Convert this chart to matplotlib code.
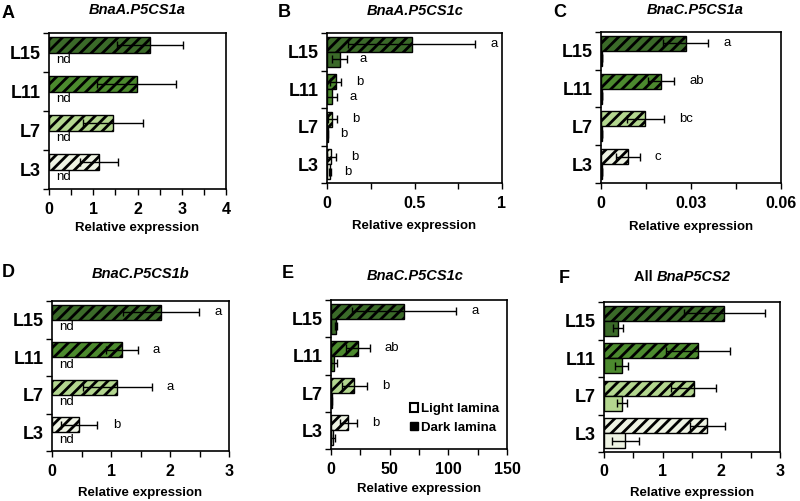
import matplotlib
matplotlib.use('Agg')
import matplotlib.pyplot as plt
import matplotlib.patches as mpatches
from matplotlib.ticker import MultipleLocator, FixedLocator

plt.rcParams['font.family'] = ['Liberation Sans', 'DejaVu Sans']
plt.rcParams['hatch.linewidth'] = 2.0

# leaf levels, bottom to top
levels = ['L3', 'L7', 'L11', 'L15']
level_colors = ['#eef3e3', '#b3d68f', '#4c8a2e', '#3b6a29']

# A  BnaA.P5CS1a
a_light = [1.12, 1.45, 1.98, 2.28]
a_light_err = [0.43, 0.68, 0.90, 0.75]

# B  BnaA.P5CS1c
b_light = [0.025, 0.031, 0.050, 0.484]
b_light_err = [0.025, 0.026, 0.032, 0.363]
b_dark = [0.019, 0.003, 0.027, 0.073]
b_dark_err = [0.006, 0.002, 0.030, 0.044]
b_light_sig = ['b', 'b', 'b', 'a']
b_dark_sig = ['b', 'b', 'a', 'a']

# C  BnaC.P5CS1a
c_light = [0.0090, 0.0148, 0.0201, 0.0282]
c_light_err = [0.0039, 0.0063, 0.0043, 0.0074]
c_dark = [0.0002, 0.0002, 0.0002, 0.0003]
c_light_sig = ['c', 'bc', 'ab', 'a']

# D  BnaC.P5CS1b
d_light = [0.46, 1.11, 1.18, 1.85]
d_light_err = [0.31, 0.58, 0.27, 0.64]
d_light_sig = ['b', 'a', 'a', 'a']

# E  BnaC.P5CS1c
e_light = [14.8, 19.9, 22.8, 62.3]
e_light_err = [7.4, 10.6, 10.2, 44.4]
e_dark = [1.7, 0.5, 2.6, 4.3]
e_dark_err = [1.4, 0.3, 2.8, 0.5]
e_light_sig = ['b', 'b', 'ab', 'a']

# F  all BnaP5CS2
f_light = [1.76, 1.53, 1.60, 2.05]
f_light_err = [0.30, 0.38, 0.55, 0.69]
f_dark = [0.36, 0.31, 0.30, 0.245]
f_dark_err = [0.23, 0.08, 0.11, 0.085]

W, H = 800, 501
fig = plt.figure(figsize=(8, 5.01), dpi=100)

ERR_KW = dict(ecolor='black', elinewidth=1, capsize=3, capthick=1)


def px_axes(left, right, top, bottom):
    return fig.add_axes([left / W, 1 - bottom / H, (right - left) / W, (bottom - top) / H])


def panel(box, xmax, major, minor, light, light_err, dark=None, dark_err=None,
          light_sig=None, dark_sig=None, nd=False):
    ax = px_axes(*box)
    ys = list(range(len(levels)))
    y_light = [y + 0.2 for y in ys]
    y_dark = [y - 0.2 for y in ys]
    ax.barh(y_light, light, height=0.4, color=level_colors, edgecolor='black',
            linewidth=1, hatch='///', xerr=light_err, error_kw=ERR_KW)
    if dark is not None:
        ax.barh(y_dark, dark, height=0.4, color=level_colors, edgecolor='black',
                linewidth=1, xerr=dark_err, error_kw=ERR_KW)
    if nd:
        for y in y_dark:
            ax.annotate('nd', xy=(0, y), xytext=(5, 0), textcoords='offset points',
                        va='center', ha='left', fontsize=9.5)
    if light_sig:
        for v, e, y, s in zip(light, light_err, y_light, light_sig):
            ax.annotate(s, xy=(v + e, y), xytext=(11, 0), textcoords='offset points',
                        va='center', ha='left', fontsize=9.5)
    if dark_sig:
        for v, e, y, s in zip(dark, dark_err, y_dark, dark_sig):
            ax.annotate(s, xy=(v + e, y), xytext=(9, 0), textcoords='offset points',
                        va='center', ha='left', fontsize=9.5)

    ax.set_xlim(0, xmax)
    ax.set_ylim(-0.5, len(levels) - 0.5)
    ax.xaxis.set_major_locator(FixedLocator(major))
    ax.xaxis.set_minor_locator(MultipleLocator(minor))
    ax.set_xticklabels([('%g' % v) for v in major])
    ax.set_yticks(ys)
    ax.set_yticklabels(levels)
    ax.yaxis.set_minor_locator(FixedLocator([y - 0.5 for y in ys] + [len(levels) - 0.5]))
    ax.tick_params(axis='y', which='major', length=0, pad=6, labelsize=13)
    ax.tick_params(axis='y', which='minor', length=4, width=1)
    ax.tick_params(axis='x', which='both', length=4, width=1, pad=5, labelsize=11.5)
    for lab in ax.get_xticklabels() + ax.get_yticklabels():
        lab.set_fontweight('bold')
    for sp in ax.spines.values():
        sp.set_linewidth(1.2)
    return ax


def headings(ax, letter, lx, lbase, title, tx, tbase, xlab_base):
    fig.text(lx / W, 1 - lbase / H, letter, fontsize=13, fontweight='bold', va='baseline')
    if title is not None:
        fig.text(tx / W, 1 - tbase / H, title, fontsize=10.5, fontweight='bold',
                 style='italic', ha='center', va='baseline')
    pos = ax.get_position()
    fig.text((pos.x0 + pos.x1) / 2, 1 - xlab_base / H, 'Relative expression',
             fontsize=9.5, fontweight='bold', ha='center', va='baseline')


# A
ax = panel((49, 226, 33, 189), 4, [0, 1, 2, 3, 4], 0.5, a_light, a_light_err, nd=True)
headings(ax, 'A', 2, 18, 'BnaA.P5CS1a', 137, 14, 231)

# B
ax = panel((327, 502, 33, 183), 1, [0, 0.5, 1], 0.25, b_light, b_light_err, b_dark,
           b_dark_err, b_light_sig, b_dark_sig)
headings(ax, 'B', 278, 17, 'BnaA.P5CS1c', 415, 15, 229)

# C
ax = panel((601, 781, 32, 183), 0.06, [0, 0.03, 0.06], 0.015, c_light, c_light_err,
           c_dark, [0, 0, 0, 0], c_light_sig)
headings(ax, 'C', 553, 17, 'BnaC.P5CS1a', 695, 14, 230)

# D
ax = panel((52, 229, 301, 451), 3, [0, 1, 2, 3], 0.5, d_light, d_light_err,
           light_sig=d_light_sig, nd=True)
headings(ax, 'D', 2, 277, 'BnaC.P5CS1b', 141, 278, 496)

# E
ax = panel((331, 507, 300, 449), 150, [0, 50, 100, 150], 25, e_light, e_light_err,
           e_dark, e_dark_err, e_light_sig)
headings(ax, 'E', 282, 278, 'BnaC.P5CS1c', 415, 280, 492)
ax.legend(handles=[
    mpatches.Patch(facecolor='white', edgecolor='black', linewidth=1.5, label='Light lamina'),
    mpatches.Patch(facecolor='black', edgecolor='black', label='Dark lamina'),
], loc='lower right', bbox_to_anchor=(1.0, 0.05), frameon=False, handlelength=0.6,
    handleheight=0.6, handletextpad=0.2, labelspacing=0.5, borderaxespad=0.2,
    prop={'weight': 'bold', 'size': 9.5})

# F  (title mixes upright and italic)
ax = panel((604, 780, 302, 452), 3, [0, 1, 2, 3], 0.5, f_light, f_light_err,
           f_dark, f_dark_err)
headings(ax, 'F', 559, 283, None, 0, 0, 496)
t1 = fig.text(634 / W, 1 - 281 / H, 'All ', fontsize=10.5, fontweight='bold',
              ha='left', va='baseline')
ax.annotate('BnaP5CS2', xy=(1, 0), xycoords=t1, va='bottom', ha='left',
            fontsize=10.5, fontweight='bold', style='italic')

fig.savefig('out.png', dpi=100)
